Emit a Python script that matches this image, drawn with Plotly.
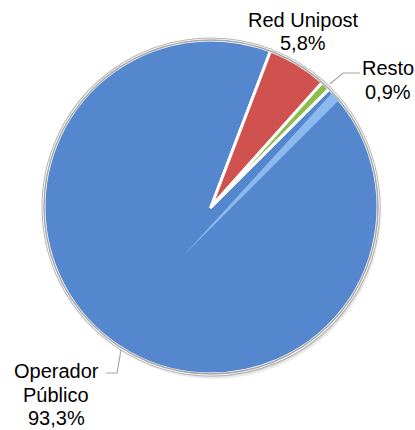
import plotly.graph_objects as go

# Cuota de mercado postal por operador
operadores = ["Operador Público", "Red Unipost", "Resto"]
cuotas = [93.3, 5.8, 0.9]
colores = ["#5587CE", "#D0524E", "#8DBB4C"]

W, H = 415, 430
CX, CY, R = 211, 207, 167  # centro y radio del círculo, en píxeles


def px(x):
    return x / W


def py(y):
    return 1 - y / H


def pct(v):
    return f"{v / sum(cuotas) * 100:.1f}".replace(".", ",") + "%"


dominio = dict(x=[px(CX - R), px(CX + R)], y=[py(CY + R), py(CY - R)])


def tarta(linea_color, linea_ancho):
    return go.Pie(
        labels=operadores,
        values=cuotas,
        sort=False,
        direction="clockwise",
        rotation=45,
        marker=dict(colors=colores, line=dict(color=linea_color, width=linea_ancho)),
        textinfo="none",
        hoverinfo="label+percent",
        domain=dominio,
        showlegend=False,
    )


# Dos capas: borde gris ancho debajo y borde blanco estrecho encima
fig = go.Figure([tarta("#B4B4B4", 5), tarta("white", 3)])

FONT = dict(family="Liberation Sans, Arial, sans-serif", size=20, color="#000000")

# Etiquetas: (líneas de texto, centro x, centros y de cada línea)
etiquetas = [
    (["Red Unipost", pct(cuotas[1])], 303, [20, 43]),
    (["Resto", pct(cuotas[2])], 388, [68, 92]),
    (operadores[0].split(" ") + [pct(cuotas[0])], 56, [371, 395, 418]),
]
anns = []
for lineas, x, ys in etiquetas:
    for t, y in zip(lineas, ys):
        anns.append(dict(x=px(x), y=py(y), xref="paper", yref="paper", text=t,
                         showarrow=False, xanchor="center", yanchor="middle", font=FONT))


def trazo(puntos, cerrar=False):
    d = "M " + " L ".join(f"{px(x)},{py(y)}" for x, y in puntos)
    return d + (" Z" if cerrar else "")


shapes = []
# Sombra suave bajo el círculo
for dx, dy, a in [(3, 5, 0.08), (2, 3, 0.10), (1, 2, 0.12)]:
    shapes.append(dict(type="circle", xref="paper", yref="paper", layer="below",
                       x0=px(CX - R + dx), x1=px(CX + R + dx),
                       y0=py(CY + R + dy), y1=py(CY - R + dy),
                       line=dict(width=0), fillcolor=f"rgba(0,0,0,{a})"))

# Brillo del bisel en el borde inicial del sector azul
shapes.append(dict(type="path", xref="paper", yref="paper", layer="above",
                   path=trazo([(184, 255), (332, 93), (339, 100)], cerrar=True),
                   line=dict(width=0), fillcolor="rgba(150,195,245,0.85)"))

# Borde exterior suave del círculo
shapes.append(dict(type="circle", xref="paper", yref="paper", layer="above",
                   x0=px(CX - R), x1=px(CX + R), y0=py(CY + R), y1=py(CY - R),
                   line=dict(color="#A8A8A8", width=1.5)))

# Líneas guía de las etiquetas
guias = [
    [(330, 84), (343, 73), (360, 73)],
    [(121, 350), (117, 373), (106, 373)],
]
for g in guias:
    shapes.append(dict(type="path", xref="paper", yref="paper", layer="above",
                       path=trazo(g), line=dict(color="#A6A6A6", width=1.2)))

fig.update_layout(
    width=W, height=H,
    margin=dict(l=0, r=0, t=0, b=0),
    paper_bgcolor="white",
    annotations=anns,
    shapes=shapes,
)

fig.write_html("out.html")
